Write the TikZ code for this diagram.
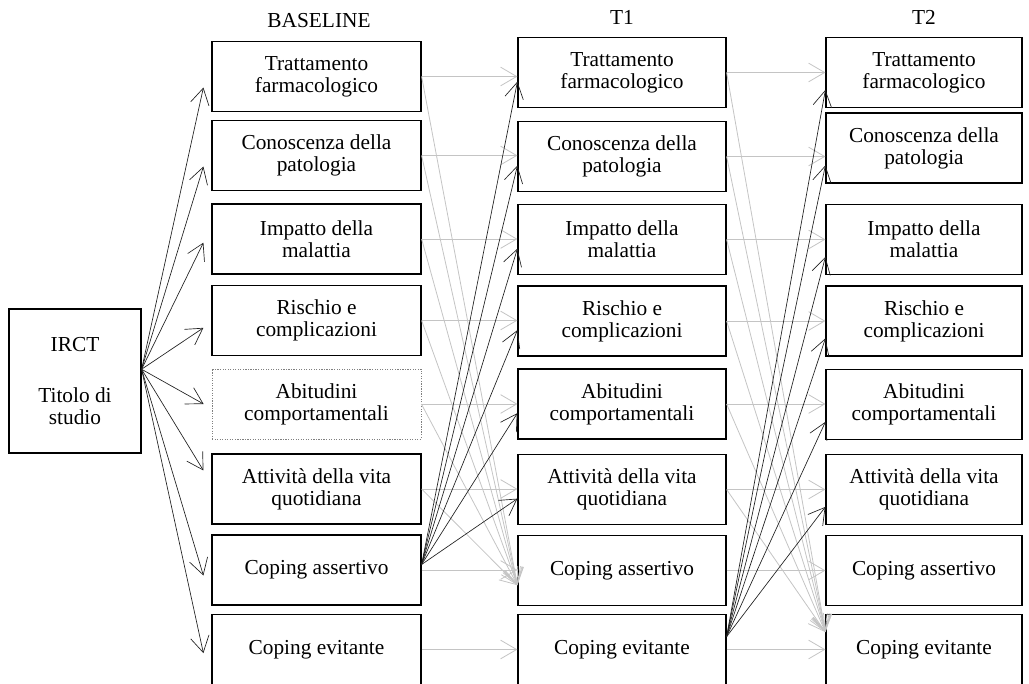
\documentclass[tikz,border=0pt]{standalone}
\usepackage{fontspec}
\setmainfont{Liberation Serif}
\usepackage{tikz}
\usetikzlibrary{arrows.meta,positioning,calc}
\definecolor{linkGray}{HTML}{C4C4C4}
\definecolor{linkDark}{HTML}{202020}

\begin{document}
\begin{tikzpicture}[x=0.75pt, y=-0.75pt, font=\fontsize{16}{16.5}\selectfont,
  >={Straight Barb[length=12pt,width=14pt]},
  box/.style={draw, line width=0.9pt, align=center, minimum height=52.5pt, inner sep=0pt},
  boxdot/.style={box, draw=gray, densely dotted, line width=0.6pt},
  graylink/.style={->, linkGray, line width=0.6pt},
  darklink/.style={->, linkDark, line width=0.5pt}]
\useasboundingbox (0,0) rectangle (1029,684);
% ---- headers ----
\node (hbase) at (319,21) {BASELINE};
\node (hone) at (622,17) {T1};
\node (htwo) at (924,17) {T2};
% ---- source box ----
\node[box, minimum width=99pt, minimum height=108pt] (irct) at (75,381)
  {IRCT\\[22pt] Titolo di\\studio};
% ---- three columns: baseline (b), T1 (t), T2 (u) ----
\foreach \i/\yb/\yt/\yu/\lab in {%
  1/76.5/72.5/72.5/{Trattamento\\farmacologico},
  2/155.5/156.5/148/{Conoscenza della\\patologia},
  3/239/239.5/239.5/{Impatto della\\malattia},
  4/320.5/321/321/{Rischio e\\complicazioni},
  5/404/404/404.5/{Abitudini\\comportamentali},
  6/489/489.5/489.5/{Attività della vita\\quotidiana},
  7/570/570.5/570.5/{Coping assertivo},
  8/649.5/649.5/649.5/{Coping evitante}}{
  \ifnum\i=5
    \node[boxdot, minimum width=156.75pt] (b\i) at (316.5,\yb) {\lab};
  \else
    \node[box, minimum width=156.75pt] (b\i) at (316.5,\yb) {\lab};
  \fi
  \node[box, minimum width=156pt] (t\i) at (622,\yt) {\lab};
  \node[box, minimum width=147pt] (u\i) at (924,\yu) {\lab};
}
% ---- IRCT -> baseline ----
\foreach \i/\a in {1/186,2/186,3/182,4/184,5/180,6/170,7/183,8/182}
  \draw[darklink] (irct.10) -- ([xshift=-6pt]b\i.\a);
% ---- baseline -> T1 ----
\foreach \i in {1,...,8}
  \draw[graylink] (b\i.east) -- (b\i.east -| t\i.west);
\foreach \i in {1,...,6}
  \draw[graylink] (b\i.east) -- (t7.188);
\foreach \i in {1,...,6}
  \draw[darklink] (b7.3) -- (t\i.185);
% ---- T1 -> T2 ----
\foreach \i in {1,...,8}
  \draw[graylink] (t\i.east) -- (t\i.east -| u\i.west);
\foreach \i in {1,...,6}
  \draw[graylink] (t\i.east) -- (u8.170);
\foreach \i in {1,...,6}
  \draw[darklink] (t8.7) -- (u\i.190);
\end{tikzpicture}
\end{document}
